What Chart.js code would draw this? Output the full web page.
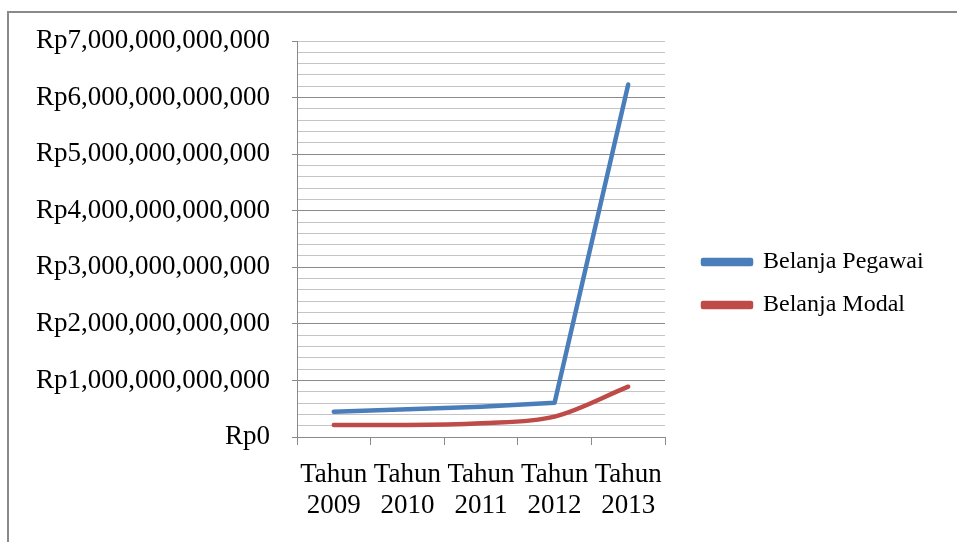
<!DOCTYPE html>
<html>
<head>
<meta charset="utf-8">
<script src="https://cdn.jsdelivr.net/npm/chart.js@4/dist/chart.umd.min.js"></script>
<style>
  html, body { margin: 0; padding: 0; background: #fff; }
  #wrap { position: relative; width: 957px; height: 542px; overflow: hidden; }
  #frame { position: absolute; left: 7px; top: 11px; width: 1000px; height: 600px; border: 2px solid #8a8a8a; box-sizing: border-box; }
  #grafik { position: absolute; left: 0; top: 0; }
</style>
</head>
<body>
<div id="wrap">
  <div id="frame"></div>
  <canvas id="grafik" width="957" height="542"></canvas>
</div>
<script>
var tahun = [['Tahun', '2009'], ['Tahun', '2010'], ['Tahun', '2011'], ['Tahun', '2012'], ['Tahun', '2013']];
var belanjaPegawai = [447e9, 490e9, 535e9, 606e9, 6230e9];
var belanjaModal = [212e9, 212e9, 242e9, 359e9, 889e9];
var batasBawah = 0;
var batasAtas = 7e12;
var langkahMinor = 2e11;
var langkahMayor = 1e12;

function isMayor(v) {
    return Math.round(v / langkahMinor) % Math.round(langkahMayor / langkahMinor) === 0;
}

function formatRp(v) {
    return 'Rp' + Math.round(v).toLocaleString('en-US');
}

// geser legenda ke kanan area grafik
var posisiLegenda = {
    id: 'posisiLegenda',
    afterLayout: function(chart) {
        let lg = chart.legend;
        let pad = lg.options.labels.padding;
        lg.left = 703 - pad;
        lg.right = lg.left + 260;
        lg.top = 262 - 12 - pad;
        lg.bottom = lg.top + 200;
        lg.width = 260;
        lg.height = 200;
    }
};

let ctx = document.getElementById('grafik').getContext('2d');
let grafik = new Chart(ctx, {
    type: 'line',
    data: {
        labels: tahun,
        datasets: [{
            label: 'Belanja Pegawai',
            data: belanjaPegawai,
            borderColor: '#4a7ebb',
            backgroundColor: '#4a7ebb',
            borderWidth: 4.5,
            pointRadius: 0,
            tension: 0,
            borderCapStyle: 'round',
            borderJoinStyle: 'round'
        }, {
            label: 'Belanja Modal',
            data: belanjaModal,
            borderColor: '#be4b48',
            backgroundColor: '#be4b48',
            borderWidth: 4.5,
            pointRadius: 0,
            cubicInterpolationMode: 'monotone',
            borderCapStyle: 'round',
            borderJoinStyle: 'round'
        }]
    },
    options: {
        responsive: false,
        animation: false,
        events: [],
        layout: { padding: { left: 0, top: 41, right: 292, bottom: 0 } },
        plugins: {
            tooltip: { enabled: false },
            legend: {
                position: 'chartArea',
                align: 'start',
                labels: {
                    boxWidth: 48,
                    boxHeight: 4,
                    padding: 19,
                    color: '#000',
                    font: { family: 'Liberation Serif', size: 24 }
                }
            }
        },
        scales: {
            x: {
                offset: true,
                grid: {
                    offset: true,
                    drawOnChartArea: false,
                    tickLength: 8,
                    tickColor: '#8a8a8a'
                },
                border: { color: '#8a8a8a' },
                ticks: {
                    autoSkip: false,
                    maxRotation: 0,
                    minRotation: 0,
                    padding: 14,
                    color: '#000',
                    font: { family: 'Liberation Serif', size: 27, lineHeight: '31px' }
                },
                afterFit: function(axis) { axis.height = 105; }
            },
            y: {
                min: batasBawah,
                max: batasAtas,
                grid: {
                    color: function(c) {
                        let v = c.tick ? c.tick.value : 0;
                        if (v >= batasAtas) return '#c4c4c4';
                        return isMayor(v) ? '#8a8a8a' : '#c4c4c4';
                    },
                    tickColor: function(c) {
                        let v = c.tick ? c.tick.value : 0;
                        return isMayor(v) ? '#8a8a8a' : 'rgba(0,0,0,0)';
                    },
                    tickLength: 5
                },
                border: { color: '#8a8a8a' },
                ticks: {
                    stepSize: langkahMinor,
                    autoSkip: false,
                    padding: 22,
                    color: '#000',
                    font: { family: 'Liberation Serif', size: 27 },
                    callback: function(v) { return isMayor(v) ? formatRp(v) : ''; }
                },
                afterFit: function(axis) { axis.width = 297; }
            }
        }
    },
    plugins: [posisiLegenda]
});
</script>
</body>
</html>
